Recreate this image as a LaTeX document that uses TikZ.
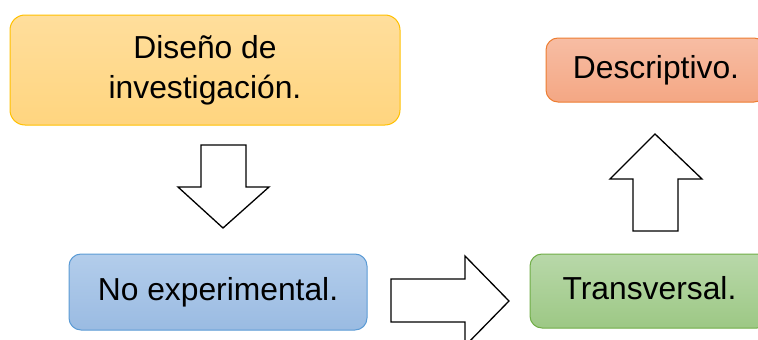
\documentclass[tikz,border=0pt]{standalone}
\usepackage{fontspec}
\setmainfont{Liberation Sans}
\definecolor{ytop}{HTML}{FFDE9C}
\definecolor{ybot}{HTML}{FFD57F}
\definecolor{ybord}{HTML}{FFC000}
\definecolor{otop}{HTML}{F7BDA4}
\definecolor{obot}{HTML}{F4A784}
\definecolor{obord}{HTML}{ED7D31}
\definecolor{gtop}{HTML}{B8D8A9}
\definecolor{gbot}{HTML}{9DC885}
\definecolor{gbord}{HTML}{70AD47}
\definecolor{btop}{HTML}{B3CDEB}
\definecolor{bbot}{HTML}{9ABBE2}
\definecolor{bbord}{HTML}{5B9BD5}
\begin{document}
\begin{tikzpicture}[x=1pt,y=-1pt,
  basebox/.style={rounded corners=12pt, line width=1pt, inner sep=0pt,
    font=\fontsize{31.8}{40}\selectfont},
  onebox/.style={basebox, text height=22pt, text depth=6pt},
  blockarrow/.style={draw=black, line width=1.3pt, fill=white, line join=miter}]
\useasboundingbox (0,0) rectangle (758,340);
\clip (0,0) rectangle (758,340);
\node[basebox, align=center, draw=ybord, top color=ytop, bottom color=ybot,
  minimum width=390pt, minimum height=110pt, rounded corners=15pt] (dis) at (205,70)
  {Diseño de\\investigación.};
\node[onebox, draw=bbord, top color=btop, bottom color=bbot,
  minimum width=298pt, minimum height=76pt] (noexp) at (218,292) {No experimental.};
\node[onebox, draw=gbord, top color=gtop, bottom color=gbot,
  minimum width=239pt, minimum height=74pt] (trans) at (649.5,291) {Transversal.};
\node[onebox, draw=obord, top color=otop, bottom color=obot,
  minimum width=220pt, minimum height=64pt] (desc) at (656,70) {Descriptivo.};
% block arrows
\draw[blockarrow] (201,145) -- (246,145) -- (246,187) -- (269,187) -- (223,228)
  -- (178,187) -- (201,187) -- cycle;
\draw[blockarrow] (391,279) -- (465,279) -- (465,256) -- (509,301) -- (465,346)
  -- (465,322) -- (391,322) -- cycle;
\draw[blockarrow] (633,231) -- (678,231) -- (678,179) -- (702,179) -- (655,134)
  -- (610,179) -- (633,179) -- cycle;
\end{tikzpicture}
\end{document}
